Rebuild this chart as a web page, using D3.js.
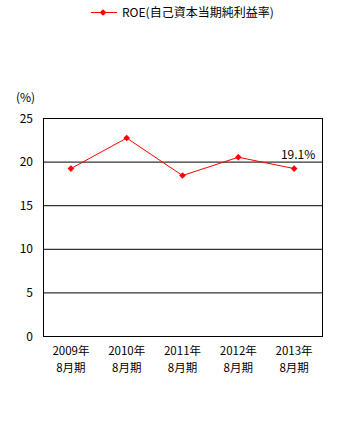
<!DOCTYPE html>
<html><head><meta charset="utf-8">
<script src="https://cdn.jsdelivr.net/npm/d3@7"></script>
<style>body{margin:0;background:#fff}svg{display:block}text{font-family:"Noto Sans CJK JP","DejaVu Sans",sans-serif;fill:#000}</style>
</head><body>
<svg id="c" width="359" height="430"></svg>
<script>
const years = ["2009年","2010年","2011年","2012年","2013年"];
const periods = ["8月期","8月期","8月期","8月期","8月期"];
const roe = [19.2, 22.7, 18.4, 20.5, 19.2];
const yTicks = [0,5,10,15,20,25];
const seriesName = "ROE(自己資本当期純利益率)";
const lastLabel = "19.1%";

const svg = d3.select("#c");
const L=43, R=322, T=118, B=336;
const x = d3.scaleBand().domain(years).range([L,R]);
const y = d3.scaleLinear().domain([0,25]).range([B,T]);

// gridlines
svg.append("g").selectAll("line").data(yTicks.filter(d=>d>0&&d<25)).join("line")
  .attr("x1",L).attr("x2",R).attr("y1",d=>y(d)+0.5).attr("y2",d=>y(d)+0.5)
  .attr("stroke","#000").attr("stroke-width",1);
// frame
svg.append("rect").attr("x",L+0.5).attr("y",T+0.5).attr("width",R-L).attr("height",B-T)
  .attr("fill","none").attr("stroke","#000").attr("stroke-width",1);

// y labels
svg.append("g").selectAll("text").data(yTicks).join("text")
  .attr("x",L-10).attr("y",d=>y(d)+4.5).attr("text-anchor","end")
  .attr("font-size",12).text(d=>d);
svg.append("text").attr("x",16).attr("y",102).attr("font-size",12).text("(%)");

// x labels
const xl = svg.append("g");
years.forEach((yr,i)=>{
  const cx = x(yr)+x.bandwidth()/2;
  xl.append("text").attr("x",cx).attr("y",355).attr("text-anchor","middle").attr("font-size",11.5).text(yr);
  xl.append("text").attr("x",cx).attr("y",372).attr("text-anchor","middle").attr("font-size",11.5).text(periods[i]);
});

// line
const pts = years.map((yr,i)=>[x(yr)+x.bandwidth()/2, y(roe[i])]);
svg.append("path").attr("d",d3.line()(pts)).attr("fill","none").attr("stroke","#ff0000").attr("stroke-width",1);
const sym = d3.symbol().type(d3.symbolSquare).size(22);
svg.append("g").selectAll("path").data(pts).join("path")
  .attr("transform",d=>`translate(${d[0]},${d[1]}) rotate(45)`).attr("d",sym).attr("fill","#ff0000");

// last label
svg.append("text").attr("x",pts[4][0]+4).attr("y",pts[4][1]-10).attr("text-anchor","middle").attr("font-size",12).text(lastLabel);

// legend
svg.append("line").attr("x1",91).attr("x2",117).attr("y1",12.5).attr("y2",12.5).attr("stroke","#ff0000").attr("stroke-width",1);
svg.append("path").attr("transform","translate(103,12.5) rotate(45)").attr("d",sym).attr("fill","#ff0000");
svg.append("text").attr("x",122).attr("y",17).attr("font-size",12).text(seriesName);
</script>
</body></html>
